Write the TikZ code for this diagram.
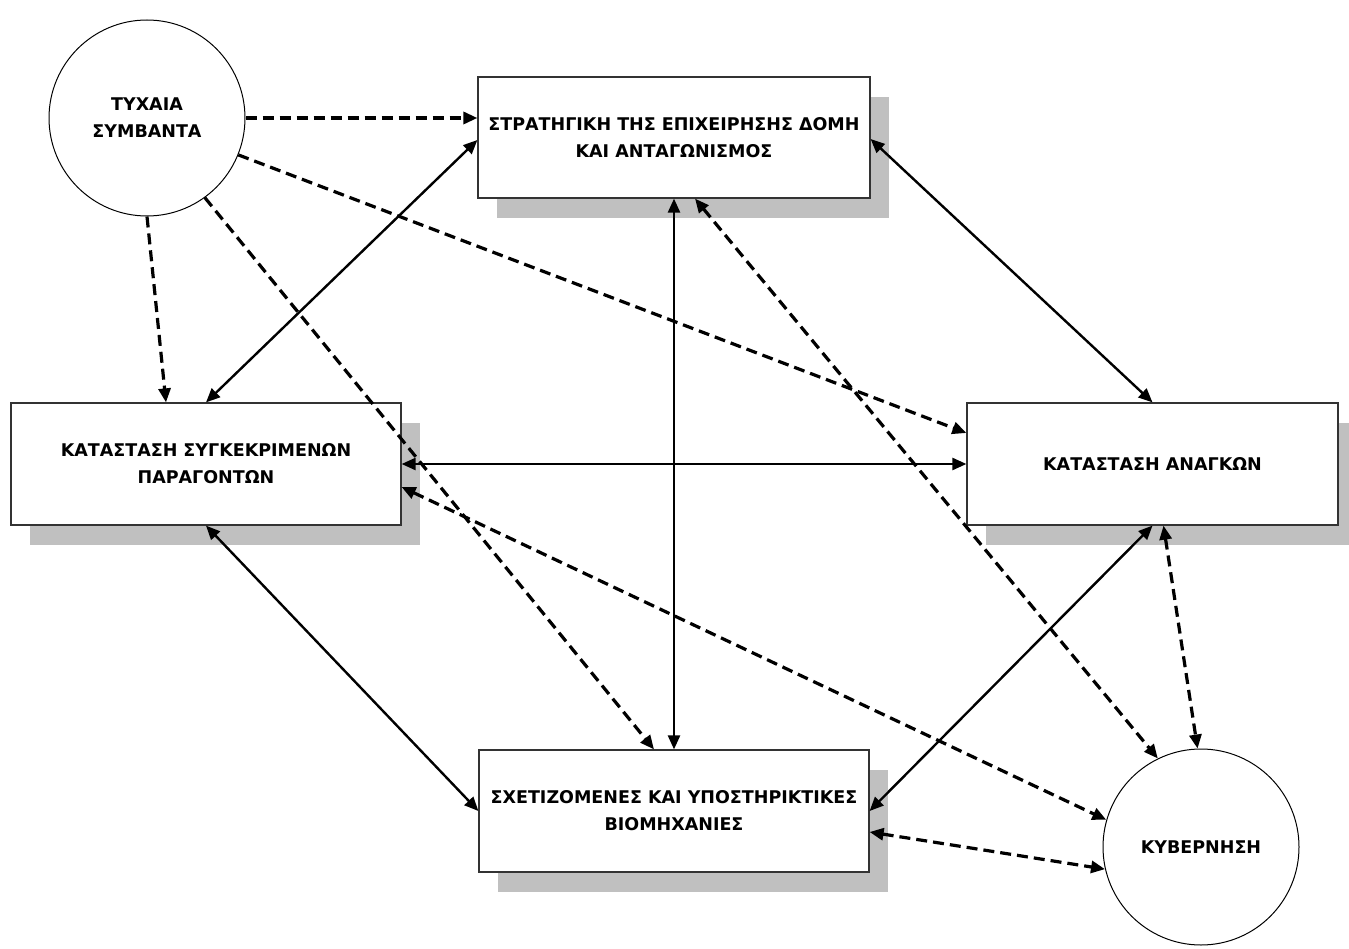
\documentclass[tikz,border=0pt]{standalone}
\usepackage{fontspec}
\setmainfont{DejaVu Sans}
\usetikzlibrary{arrows.meta,shadows,calc}
\definecolor{shadowgray}{HTML}{C0C0C0}
\definecolor{boxline}{HTML}{333333}
\tikzset{
  box/.style={draw=boxline, line width=1.2pt, fill=white, rectangle, inner sep=0pt,
    align=center, font=\fontsize{17.5}{27}\selectfont\bfseries,
    general shadow={fill=shadowgray, shadow xshift=19pt, shadow yshift=-20pt}},
  ball/.style={draw=black, line width=1pt, fill=white, circle, inner sep=0pt,
    minimum size=196pt, align=center, font=\fontsize{17.5}{27}\selectfont\bfseries},
  solidcon/.style={line width=2.4pt, {Triangle[length=14pt,width=12pt]}-{Triangle[length=14pt,width=12pt]}},
  dashcon/.style={line width=3.2pt, dash pattern=on 11pt off 6pt, -{Triangle[length=14pt,width=12pt]}},
  dashboth/.style={dashcon, {Triangle[length=14pt,width=12pt]}-{Triangle[length=14pt,width=12pt]}},
}
\begin{document}
\begin{tikzpicture}[x=1pt,y=-1pt]
\useasboundingbox (0,0) rectangle (1349,949);
\node[box, minimum width=392pt, minimum height=121pt] (strat) at (674,137.5)
  {ΣΤΡΑΤΗΓΙΚΗ ΤΗΣ ΕΠΙΧΕΙΡΗΣΗΣ ΔΟΜΗ\\ΚΑΙ ΑΝΤΑΓΩΝΙΣΜΟΣ};
\node[box, minimum width=390pt, minimum height=122pt] (katast) at (206,464)
  {ΚΑΤΑΣΤΑΣΗ ΣΥΓΚΕΚΡΙΜΕΝΩΝ\\ΠΑΡΑΓΟΝΤΩΝ};
\node[box, minimum width=371pt, minimum height=122pt] (anag) at (1152.5,464)
  {ΚΑΤΑΣΤΑΣΗ ΑΝΑΓΚΩΝ};
\node[box, minimum width=390pt, minimum height=122pt] (sxet) at (674,811)
  {ΣΧΕΤΙΖΟΜΕΝΕΣ ΚΑΙ ΥΠΟΣΤΗΡΙΚΤΙΚΕΣ\\ΒΙΟΜΗΧΑΝΙΕΣ};
\node[ball] (tyx) at (147,118) {ΤΥΧΑΙΑ\\ΣΥΜΒΑΝΤΑ};
\node[ball] (kyb) at (1201,847) {ΚΥΒΕΡΝΗΣΗ};

% solid two-way connectors
\draw[solidcon] (katast.north) -- ($(strat.west)+(0,2.5)$);
\draw[solidcon] ($(strat.east)+(0,1.5)$) -- (anag.north);
\draw[solidcon] (strat.south) -- (sxet.north);
\draw[solidcon] (katast.east) -- (anag.west);
\draw[solidcon] (katast.south) -- (sxet.west);
\draw[solidcon] (anag.south) -- (sxet.east);

% dashed one-way from chance events
\draw[dashcon] (tyx.east) -- (tyx.east -| strat.west);
\draw[dashcon] (tyx.south) -- ($(katast.north)+(-40,0)$);
\draw[dashcon] (tyx.-22) -- ($(anag.west)+(0,-31)$);
\draw[dashcon] (tyx.-54) -- ($(sxet.north)+(-20,0)$);

% dashed two-way with government
\draw[dashboth] ($(strat.south)+(21,0)$) -- (kyb.116);
\draw[dashboth] ($(katast.east)+(0,23)$) -- (kyb.164);
\draw[dashboth] ($(sxet.east)+(0,21)$) -- (kyb.193);
\draw[dashboth] ($(anag.south)+(11,0)$) -- (kyb.92);
\end{tikzpicture}
\end{document}
